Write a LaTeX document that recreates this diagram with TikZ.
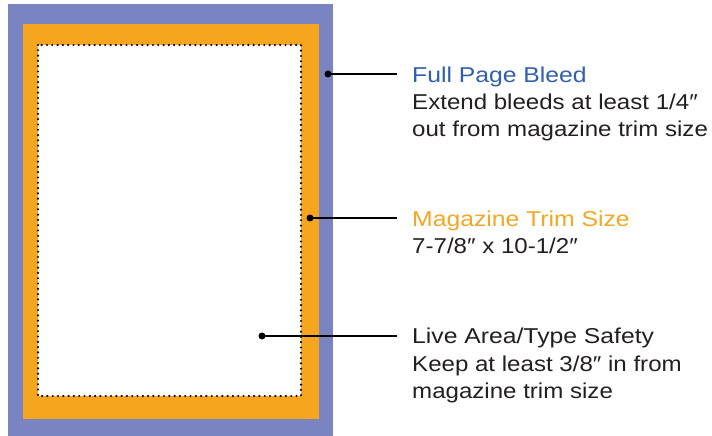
\documentclass[tikz,border=0pt]{standalone}
\usepackage{fontspec}
\setmainfont{Liberation Sans}[FakeStretch=1.12]
\newfontfamily\headfont{Liberation Sans}[FakeStretch=1.15]
\definecolor{bleedcol}{HTML}{7A84C1}
\definecolor{trimcol}{HTML}{F5A51E}
\definecolor{bluetext}{HTML}{2F5FAE}
\definecolor{orangetext}{HTML}{F5A623}
\definecolor{bodytext}{HTML}{231F20}
\begin{document}
\begin{tikzpicture}[x=1bp,y=-1bp,
  headstyle/.style={anchor=base west,inner sep=0pt,font=\headfont\fontsize{21.5bp}{27bp}\selectfont},
  bodystyle/.style={anchor=base west,inner sep=0pt,text=bodytext,font=\fontsize{21.5bp}{27bp}\selectfont},
  leader/.style={line width=2bp,draw=black},
  leaderdot/.style={fill=black,draw=none}]
\useasboundingbox (0,0) rectangle (712,436);
% frames
\fill[bleedcol] (8,4) rectangle (333,436);
\fill[trimcol] (23,24) rectangle (319,419);
\fill[white] (38,45) rectangle (301,396);
\draw[line width=2.4bp,line cap=round,dash pattern=on 0pt off 5.3bp] (38,45) rectangle (301,396);
% anchor points
\coordinate (p1) at (328,74);
\coordinate (p2) at (310,218);
\coordinate (p3) at (262,336);
\coordinate (e1) at (397,74);
\coordinate (e2) at (397,218);
\coordinate (e3) at (397,336);
% leaders
\draw[leader] (p1) -- (e1);
\draw[leader] (p2) -- (e2);
\draw[leader] (p3) -- (e3);
\fill[leaderdot] (p1) circle (3.5bp);
\fill[leaderdot] (p2) circle (3.5bp);
\fill[leaderdot] (p3) circle (3.5bp);
% texts
\node[headstyle,text=bluetext] (h1) at (412,83) {Full Page Bleed};
\node[bodystyle] (b1a) at (412,110) {Extend bleeds at least 1/4″};
\node[bodystyle] (b1b) at (412,137) {out from magazine trim size};
\node[headstyle,text=orangetext] (h2) at (412,227) {Magazine Trim Size};
\node[bodystyle] (b2a) at (412,254) {7-7/8″ x 10-1/2″};
\node[headstyle,text=bodytext] (h3) at (412,344) {Live Area/Type Safety};
\node[bodystyle] (b3a) at (412,371) {Keep at least 3/8″ in from};
\node[bodystyle] (b3b) at (412,398) {magazine trim size};
\end{tikzpicture}
\end{document}
